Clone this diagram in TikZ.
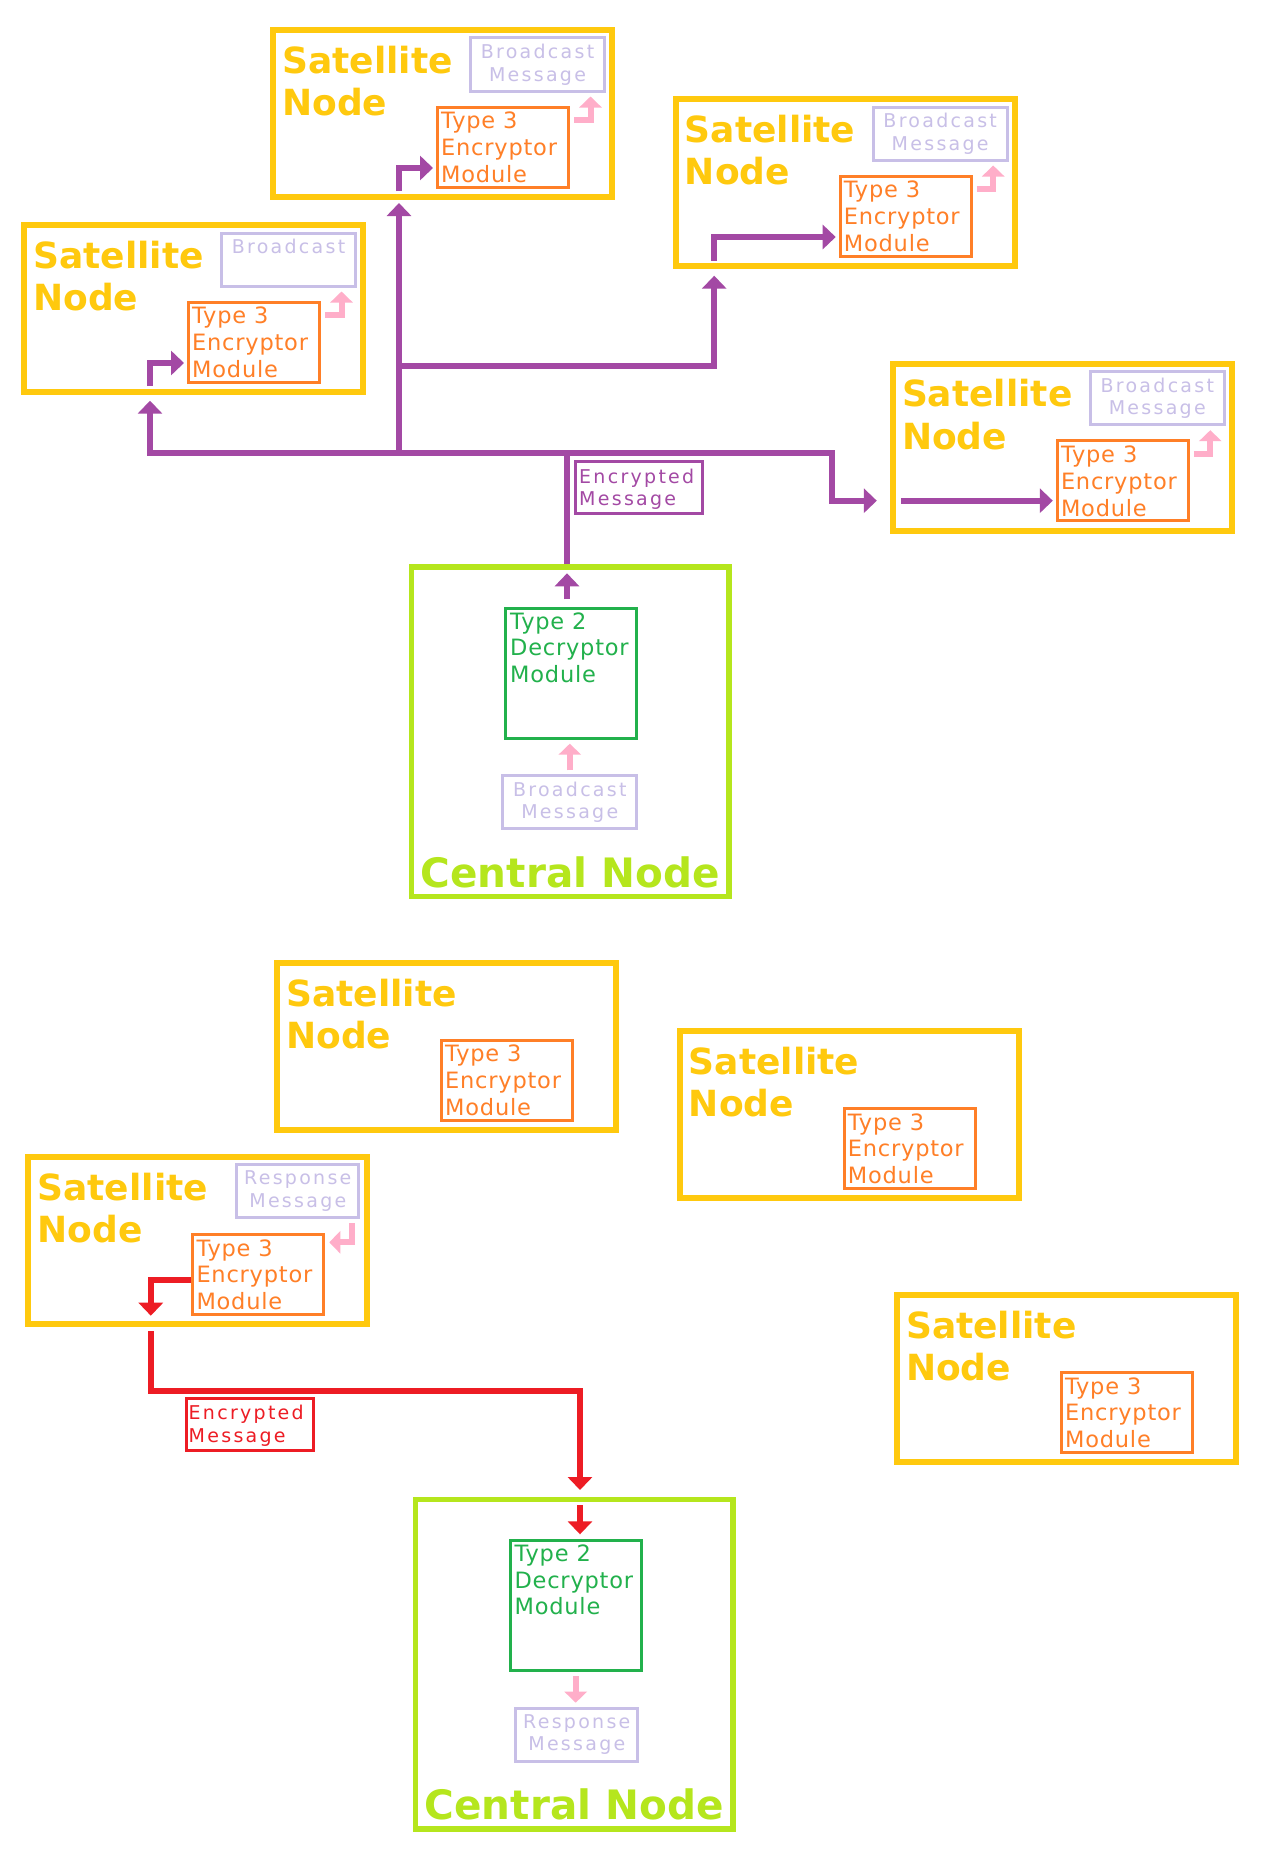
\documentclass[tikz,border=0pt]{standalone}
\usepackage{fontspec}
\setmainfont{DejaVu Sans}
\newfontfamily\modfont{DejaVu Sans}[LetterSpace=3.5]
\newfontfamily\msgfont{DejaVu Sans}[LetterSpace=12]
\usetikzlibrary{arrows.meta,calc}
\definecolor{satyellow}{HTML}{FFC90E}
\definecolor{encorange}{HTML}{FF7F27}
\definecolor{msglav}{HTML}{C8BFE7}
\definecolor{ppurple}{HTML}{A349A4}
\definecolor{ppink}{HTML}{FFAEC9}
\definecolor{clime}{HTML}{B5E61D}
\definecolor{dgreen}{HTML}{22B14C}
\definecolor{rred}{HTML}{ED1C24}
\begin{document}
\begin{tikzpicture}[x=1pt,y=-1pt,
  sat/.style={draw=satyellow,line width=6pt,minimum width=339pt,minimum height=167pt,inner sep=0pt,anchor=north west},
  enc/.style={draw=encorange,line width=3pt,minimum width=131pt,minimum height=80pt,inner sep=0pt,anchor=north west},
  bmsg/.style={draw=msglav,line width=3pt,minimum width=134pt,minimum height=53pt,inner sep=0pt,anchor=north west},
  rmsg/.style={bmsg,minimum width=122pt},
  dec/.style={draw=dgreen,line width=3pt,minimum width=131pt,minimum height=130pt,inner sep=0pt,anchor=north west},
  central/.style={draw=clime,line width=5.5pt,minimum width=317.5pt,minimum height=329.5pt,inner sep=0pt,anchor=north west},
  plabel/.style={draw=ppurple,line width=3pt,minimum width=127pt,minimum height=52pt,inner sep=0pt,anchor=north west},
  rlabel/.style={plabel,draw=rred},
  ttl/.style={text=satyellow,font=\bfseries\fontsize{36}{42.4}\selectfont,align=left,inner sep=0pt,anchor=north west},
  modtxt/.style={font=\modfont\fontsize{22.5}{26.7}\selectfont,align=left,inner sep=0pt,anchor=north west},
  lbltxt/.style={font=\msgfont\fontsize{19}{22.4}\selectfont,align=left,inner sep=0pt,anchor=north west},
  msgtxt/.style={text=msglav,font=\msgfont\fontsize{19}{22.3}\selectfont,align=center,inner sep=0pt,anchor=north},
  ctext/.style={text=clime,font=\bfseries\fontsize{40.5}{44}\selectfont,inner sep=0pt,anchor=base},
  pl/.style={draw=ppurple,line width=6pt},
  pa/.style={pl,-{Triangle[width=24pt,length=13pt]}},
  ra/.style={draw=rred,line width=6pt,-{Triangle[width=24pt,length=13pt]}},
  pk/.style={draw=ppink,line width=6pt,-{Triangle[width=22pt,length=11pt]},shorten <=4pt,shorten >=4pt}
]
\fill[white] (0,0) rectangle (1276,1868);
\useasboundingbox (0,0) rectangle (1276,1868);

% ---------- Top scene: satellites ----------
% Sat A
\node[sat] (sA) at (270,27) {};
\node[ttl] (sA-t) at ($(sA.north west)+(12,18.6)$) {Satellite\\Node};
\node[enc] (sA-e) at ($(sA.north west)+(166,78.5)$) {};
\node[modtxt,text=encorange] (sA-et) at ($(sA-e.north west)+(5,6.5)$) {Type 3\\Encryptor\\Module};
\node[bmsg] (sA-m) at ($(sA.north west)+(199,9.5)$) {};
\node[msgtxt] (sA-mt) at ($(sA-m.north)+(0,7.6)$) {Broadcast\\Message};
\draw[pk] ([yshift=27pt]sA-e.east) -| ([xshift=53pt]sA-m.south);
\draw[pa,shorten >=3pt] ([xshift=-43.5pt,yshift=9pt]sA.south) |- ([yshift=-21pt]sA-e.west);

% Sat B
\node[sat] (sB) at (672.7,96) {};
\node[ttl] (sB-t) at ($(sB.north west)+(12,18.6)$) {Satellite\\Node};
\node[enc] (sB-e) at ($(sB.north west)+(166,78.5)$) {};
\node[modtxt,text=encorange] (sB-et) at ($(sB-e.north west)+(5,6.5)$) {Type 3\\Encryptor\\Module};
\node[bmsg] (sB-m) at ($(sB.north west)+(199,9.5)$) {};
\node[msgtxt] (sB-mt) at ($(sB-m.north)+(0,7.6)$) {Broadcast\\Message};
\draw[pk] ([yshift=27pt]sB-e.east) -| ([xshift=53pt]sB-m.south);
\draw[pa,shorten >=3pt] ([xshift=-131pt,yshift=8.3pt]sB.south) |- ([yshift=-21pt]sB-e.west);

% Sat C
\node[sat] (sC) at (21,222) {};
\node[ttl] (sC-t) at ($(sC.north west)+(12,18.6)$) {Satellite\\Node};
\node[enc] (sC-e) at ($(sC.north west)+(166,78.5)$) {};
\node[modtxt,text=encorange] (sC-et) at ($(sC-e.north west)+(5,6.5)$) {Type 3\\Encryptor\\Module};
\node[bmsg] (sC-m) at ($(sC.north west)+(199,9.5)$) {};
\node[msgtxt] (sC-mt) at ($(sC-m.north)+(0,7.6)$) {Broadcast};
\draw[pk] ([yshift=27pt]sC-e.east) -| ([xshift=53pt]sC-m.south);
\draw[pa,shorten >=3pt] ([xshift=-43.5pt,yshift=9pt]sC.south) |- ([yshift=-21pt]sC-e.west);

% Sat D
\node[sat] (sD) at (889.8,360.7) {};
\node[ttl] (sD-t) at ($(sD.north west)+(12,18.6)$) {Satellite\\Node};
\node[enc] (sD-e) at ($(sD.north west)+(166,78.5)$) {};
\node[modtxt,text=encorange] (sD-et) at ($(sD-e.north west)+(5,6.5)$) {Type 3\\Encryptor\\Module};
\node[bmsg] (sD-m) at ($(sD.north west)+(199,9.5)$) {};
\node[msgtxt] (sD-mt) at ($(sD-m.north)+(0,7.6)$) {Broadcast\\Message};
\draw[pk] ([yshift=27pt]sD-e.east) -| ([xshift=53pt]sD-m.south);
\coordinate (dIn) at ([xshift=11pt,yshift=-53.5pt]sD.west);
\draw[pa,shorten >=3pt] (dIn) -- (dIn -| sD-e.west);

% ---------- Top scene: central node ----------
\node[central] (cT) at (408.7,564.3) {};
\node[dec] (cT-d) at ($(cT.north west)+(95.6,42.4)$) {};
\node[modtxt,text=dgreen] (cT-dt) at ($(cT-d.north west)+(5.7,5.5)$) {Type 2\\Decryptor\\Module};
\node[bmsg] (cT-m) at ($(cT.north west)+(92.6,210)$) {};
\node[msgtxt] (cT-mt) at ($(cT-m.north)+(0,7.6)$) {Broadcast\\Message};
\node[ctext] (cT-t) at ($(cT.south)+(0,-12)$) {Central Node};
\draw[pk] (cT-m.north) -- (cT-m.north |- cT-d.south);

% bus
\coordinate (J) at (567,452.7);
\draw[pa,shorten <=7.4pt,shorten >=9pt] (cT-d.north -| J) -- (cT.north -| J);
\draw[pl] (cT.north -| J) -- (J);
\draw[pa,shorten >=5.7pt] (J) -| ([xshift=-43.5pt]sC.south);
\coordinate (aX) at ([xshift=-43.5pt]sA.south);
\draw[pa,shorten >=3pt] (aX |- J) -- (aX);
\coordinate (K) at (399,366);
\draw[pa,shorten >=6.7pt] (K) -| ([xshift=-131pt]sB.south);
\coordinate (dBus) at ($(sD.west)+(-58,53.5)$);
\draw[pa,shorten >=13pt] (J) -| (dBus) -- (dBus -| sD.west);
\node[plabel] (lblP) at (574,460) {};
\node[lbltxt,text=ppurple] (lblP-t) at ($(lblP.north west)+(5,8.5)$) {Encrypted\\Message};

% ---------- Bottom scene ----------
% Sat E
\node[sat] (sE) at (274,960) {};
\node[ttl] (sE-t) at ($(sE.north west)+(12,18.6)$) {Satellite\\Node};
\node[enc] (sE-e) at ($(sE.north west)+(166,78.5)$) {};
\node[modtxt,text=encorange] (sE-et) at ($(sE-e.north west)+(5,6.5)$) {Type 3\\Encryptor\\Module};

% Sat F
\node[sat] (sF) at (676.7,1028.3) {};
\node[ttl] (sF-t) at ($(sF.north west)+(12,18.6)$) {Satellite\\Node};
\node[enc] (sF-e) at ($(sF.north west)+(166,78.5)$) {};
\node[modtxt,text=encorange] (sF-et) at ($(sF-e.north west)+(5,6.5)$) {Type 3\\Encryptor\\Module};

% Sat G
\node[sat] (sG) at (25.3,1154.3) {};
\node[ttl] (sG-t) at ($(sG.north west)+(12,18.6)$) {Satellite\\Node};
\node[enc] (sG-e) at ($(sG.north west)+(166,78.5)$) {};
\node[modtxt,text=encorange] (sG-et) at ($(sG-e.north west)+(5,6.5)$) {Type 3\\Encryptor\\Module};
\node[rmsg] (sG-m) at ($(sG.north west)+(210,9)$) {};
\node[msgtxt] (sG-mt) at ($(sG-m.north)+(0,7.6)$) {Response\\Message};
\draw[pk] ([xshift=54pt]sG-m.south) |- ([yshift=32pt]sG-e.east);
\coordinate (gX) at ([xshift=-47pt]sG.south);
\draw[ra] ([yshift=-6pt]sG-e.west) -| ([yshift=11.6pt]gX);

% Sat H
\node[sat] (sH) at (893.9,1292.3) {};
\node[ttl] (sH-t) at ($(sH.north west)+(12,18.6)$) {Satellite\\Node};
\node[enc] (sH-e) at ($(sH.north west)+(166,78.5)$) {};
\node[modtxt,text=encorange] (sH-et) at ($(sH-e.north west)+(5,6.5)$) {Type 3\\Encryptor\\Module};

% Central bottom
\node[central] (cB) at (412.7,1496.7) {};
\node[dec] (cB-d) at ($(cB.north west)+(96,42.3)$) {};
\node[modtxt,text=dgreen] (cB-dt) at ($(cB-d.north west)+(5.7,5.5)$) {Type 2\\Decryptor\\Module};
\node[rmsg] (cB-m) at ($(cB.north west)+(101.6,210)$) {};
\node[msgtxt] (cB-mt) at ($(cB-m.north)+(0,7.6)$) {Response\\Message};
\node[ctext] (cB-t) at ($(cB.south)+(0,-12)$) {Central Node};
\draw[pk] (cB-d.south) -- (cB-d.south |- cB-m.north);

% red path
\coordinate (M) at (580,1391);
\draw[ra,shorten <=3.7pt,shorten >=6.7pt] (gX) |- (M) -- (M |- cB.north);
\draw[ra,shorten <=8.3pt,shorten >=4.7pt] (M |- cB.north) -- (M |- cB-d.north);
\node[rlabel] (lblR) at (184.5,1397.3) {};
\node[lbltxt,text=rred] (lblR-t) at ($(lblR.north west)+(4,8)$) {Encrypted\\Message};
\end{tikzpicture}
\end{document}
